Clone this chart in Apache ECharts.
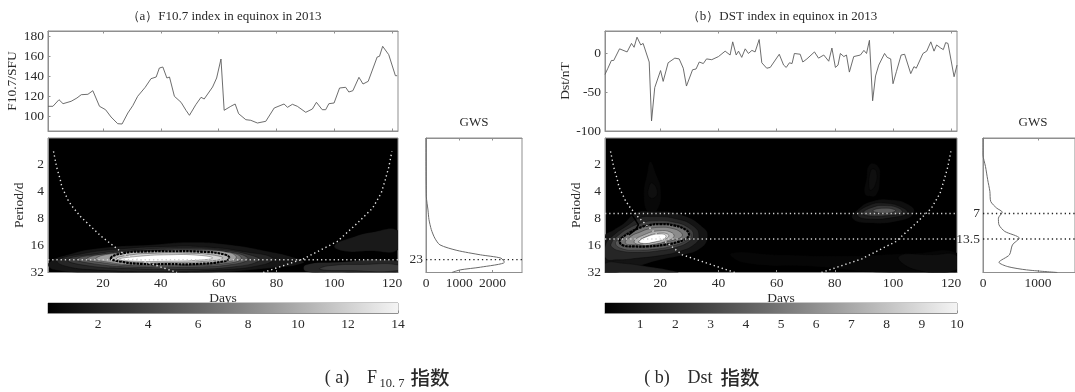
<!DOCTYPE html>
<html><head><meta charset="utf-8">
<style>html,body{margin:0;padding:0;background:#fff}#c{width:1075px;height:392px;filter:blur(0.35px)}</style>
<script src="https://cdn.jsdelivr.net/npm/echarts@6/dist/echarts.min.js"></script>
</head><body><div id="c"></div>
<script>
// ---------- values ----------
const f107Days=[1,2.7,4.8,6.2,9,11,12.5,14.8,16.5,18.8,20.9,22.8,25.1,26.6,28.6,30.3,32,34.6,36.6,38.4,39.5,40.7,42.1,43,44.7,47,48.7,49.9,52.1,53.9,55,57.9,59.3,60.8,61.9,64.2,65.7,66.9,69.4,71.1,73.4,76.3,79.2,82.6,83.8,85.5,87.2,90.1,92.4,93.8,95.8,97,98.1,99.9,101.8,103.9,105,106.4,108.5,109.9,111.7,114.8,115.6,116.7,118.8,121.1,121.7];
const f107Values=[109.7,109.7,116.3,112.3,114.7,118,121.3,121.7,125.3,109.7,106.3,99,92.3,92,103,110.3,119.7,128.7,137.3,139,148,149,138,139,119.7,113.7,105.7,100.7,111.3,118.7,117,129,138,157,105.7,109.7,112,102.3,96.3,95.7,93,94.7,108,112,108.7,111.7,109.7,103.7,107,113.7,106.3,106.3,112.3,113,128,128.7,124,125.3,138.7,132,134.7,159,159.7,169.7,161.3,140.3,140.3];
const dstDays=[1,2,3.2,4,6,8.6,10.1,11,12,13.3,14.1,16.2,17,18.1,20.1,21,22.7,25,26.5,27.9,29,31.1,32.3,33.4,34.8,35.9,37.7,40,42.3,44,44.9,46.1,46.9,48,49.2,50.3,51.5,52.6,54,54.9,56.6,57.8,60.9,62.4,63.3,64.4,65.3,66.1,68.1,69,70.4,73,74.4,76.2,77.9,79,80.2,81.1,81.9,83.1,84,85,86.5,88.8,90,90.9,91.9,93,94,95.1,97.1,98,99.2,100,101.2,102.8,104,106.1,107.2,108,110.3,111.6,113,114.1,115,116.4,117.3,118.1,118.9,121,122];
const dstValues=[-27,-19,-9,-9,6,2,13,8,21,11,13,-11,-87,-44,-22,-36,-12,-6,-7,-19,-42,-21,-20,-11,-13,-7,-8,-4,3,-2,15,-2,3,-5,6,0,4,2,18,-12,-19,-18,-1,-15,-18,-12,-13,0,-1,-11,-7,2,-6,-2,-10,7,-18,-15,0,-4,-2,-24,-4,-2,4,0,17,-61,-29,-15,0,-5,-7,-39,-23,-2,-1,-26,-17,-19,0,3,15,3,11,7,5,14,13,-30,-15];
const gwsAPeriods=[1,4.5,6.4,8.2,10.6,13.2,15.7,18.1,20.3,22.1,24.6,27.9,29.9,32];
const gwsAPower=[0,10,60,90,160,265,420,930,1640,2255,2360,1640,1030,780];
const gwsBPeriods=[1,1.54,2.08,2.93,3.96,5.12,6.1,6.75,7.9,9.35,11.1,13.2,15.7,20.3,24.6,27.5,29.9,32];
const gwsBPower=[0,0,45,85,125,140,250,350,280,290,395,660,535,480,290,450,790,1350];
const coiLeftDays=[2.9,4,5.1,5.8,7.9,9.2,12.4,19.4,27.6,45.6];
const coiLeftPeriods=[1.41,2.13,2.81,3.53,4.92,5.74,7.67,12.6,20.3,32];
const coiRightDays=[75.4,89.3,101,108,113.2,116.2,117.6,118.8,119.9];
const coiRightPeriods=[32,22.5,14.4,8.94,6.1,4.14,2.93,2.13,1.41];
const peaksA=[23];
const peaksB=[7,13.5];
const xTicks=[20,40,60,80,100,120];
const octTicks=[2,4,8,16,32];
const f107Ticks=[100,120,140,160,180];
const dstTicks=[-100,-50,0];
const gwsATicks=[0,1000,2000];
const gwsBTicks=[0,1000];
const cbarATicks=[2,4,6,8,10,12,14];
const cbarBTicks=[1,2,3,4,5,6,7,8,9,10];
// contour levels and outlines, as [day, log2(period)]
const aLevels=[0.9,1.5,2.5,0.8,1.5,2.5,4,6,8,9.5,11.5,14];
const aContours=[
 [[100,4.0],[106,3.7],[113,3.5],[122,3.45],[122,4.15],[112,4.2],[103,4.2]],
 [[90,4.72],[100,4.62],[122,4.58],[122,5],[100,5],[90,4.95]],
 [[98,4.75],[110,4.7],[122,4.72],[122,4.93],[105,4.93],[95,4.88]],
 [[1.3,4.65],[7.8,4.34],[19.4,4.09],[36.9,3.97],[50.9,3.88],[63.7,3.97],[75.4,4.18],[87,4.47],[89.3,4.65],[77.7,4.84],[54.4,5],[19.4,5],[3.1,4.9]],
 [[4.3,4.55],[12.4,4.31],[25.2,4.13],[42.7,4.03],[56.7,4.06],[68.4,4.22],[78.9,4.47],[75.4,4.71],[60.2,4.9],[36.9,4.96],[17,4.9],[6.6,4.75]],
 [[7.8,4.53],[17,4.31],[31,4.16],[48.6,4.09],[61.4,4.16],[71.9,4.38],[74.2,4.55],[66,4.78],[48.6,4.88],[28.7,4.85],[14.8,4.75]],
 [[10.9,4.5],[20.6,4.31],[34.6,4.19],[49.7,4.13],[62.5,4.22],[70.1,4.47],[66,4.68],[49.7,4.8],[31,4.8],[17,4.68]],
 [[14.3,4.49],[23,4.28],[36.9,4.19],[52,4.16],[63.7,4.25],[67.8,4.47],[63.7,4.65],[47,4.75],[31,4.75],[20.6,4.65]],
 [[17.5,4.48],[24.5,4.28],[38,4.2],[53,4.18],[64,4.27],[66,4.47],[62,4.62],[47,4.72],[31,4.72],[22,4.62]],
 [[22.7,4.47],[27,4.28],[34.6,4.22],[42.7,4.21],[54.4,4.23],[62,4.33],[63.7,4.47],[61.4,4.59],[53.2,4.68],[42.7,4.69],[33.4,4.68],[26.4,4.6]],
 [[24.7,4.49],[28.7,4.36],[36.9,4.29],[48.6,4.28],[57.9,4.35],[61.4,4.47],[55.5,4.58],[42.7,4.63],[31,4.62]],
 [[25.5,4.51],[32,4.4],[42.7,4.34],[53.2,4.36],[57.9,4.46],[53.2,4.54],[42.7,4.58],[31,4.58]]
];
const aSignificant=[9];
const bLevels=[0.25,0.6,0.3,0.6,0.35,0.6,0.6,1.2,2.2,3.5,0.8,1.2,1.5,2.5,3.5,4.5,5.5,7,8.5,10];
const bContours=[
 [[44.3,4.28],[60.8,4.34],[84.3,4.38],[107.8,4.28],[122,4.28],[122,5],[96.1,5],[72.5,4.78],[49,4.65]],
 [[102,4.4],[113.7,4.34],[122,4.38],[122,4.9],[107.8,4.9]],
 [[16.6,.87],[18.4,1.3],[20.2,1.92],[19,2.67],[16,2.79],[14.3,2.17],[15.5,1.3]],
 [[17.2,1.67],[19,1.99],[17.8,2.23],[16,2.17],[16,1.86]],
 [[91.9,.99],[94.9,1.05],[95.5,1.55],[94.3,2.11],[91.9,2.17],[90.2,2.05],[90.8,1.55]],
 [[92.5,1.18],[94.3,1.24],[93.7,1.8],[91.9,1.92]],
 [[86,2.98],[87.8,2.67],[92.5,2.36],[99.6,2.3],[106,2.52],[107.2,2.79],[103.1,3.06],[91.4,3.16]],
 [[87.8,2.85],[91.4,2.52],[97.2,2.42],[103.7,2.61],[104.9,2.79],[100.8,2.94],[91.4,3.01]],
 [[89.6,2.79],[93.1,2.57],[97.2,2.51],[102,2.61],[103.1,2.77],[98.4,2.88],[91.4,2.89]],
 [[93.1,2.7],[96.6,2.61],[100.8,2.67],[100.2,2.75],[96.1,2.79]],
 [[1,3.66],[4.1,3.41],[7.5,3.17],[11.5,2.79],[16.7,2.73],[27,2.85],[35,3.35],[36.2,3.72],[33.9,4.1],[28.2,4.34],[20.1,4.53],[12.1,4.78],[5.2,5],[1,5]],
 [[1,4.66],[7.5,4.66],[15.6,4.78],[22.4,4.9],[25.9,5],[1,5]],
 [[1.2,3.97],[4.1,3.6],[8.7,3.25],[12.7,2.98],[16.7,2.92],[25.3,3],[31.6,3.29],[33.3,3.66],[31.6,3.97],[26.4,4.22],[20.1,4.37],[12.1,4.47],[5.2,4.53],[1.2,4.47]],
 [[3.2,3.91],[5.8,3.6],[9.3,3.35],[13.3,3.17],[17.8,3.08],[24.7,3.13],[29.9,3.35],[31.4,3.62],[29.9,3.85],[25.3,4.07],[19,4.2],[12.1,4.25],[6.4,4.2],[3.5,4.07]],
 [[4.6,3.92],[6.3,3.72],[10,3.45],[14,3.28],[18,3.2],[24,3.22],[29,3.42],[30.6,3.65],[29,3.82],[24,4.02],[18.5,4.13],[12,4.17],[7,4.12]],
 [[6,3.85],[7,3.7],[9.8,3.5],[12.7,3.35],[15.6,3.25],[20.1,3.2],[24.7,3.25],[28.7,3.41],[29.9,3.6],[29.1,3.72],[25.9,3.87],[21.3,3.97],[15.6,4.03],[11,4.03],[7.5,4]],
 [[8,3.9],[10,3.65],[13,3.5],[16,3.38],[20,3.32],[24,3.36],[27,3.5],[27.5,3.65],[25,3.78],[21,3.88],[16,3.95],[11,3.97]],
 [[11,3.85],[14.4,3.6],[19.6,3.45],[23.6,3.5],[24.7,3.66],[22.4,3.82],[17.8,3.95],[13.3,3.97]],
 [[12.5,3.86],[15,3.68],[19.5,3.54],[22.5,3.57],[22.8,3.68],[20.5,3.79],[17,3.88],[13.8,3.91]],
 [[12.7,3.85],[15.6,3.66],[19.6,3.57],[21.9,3.62],[21.3,3.75],[17.8,3.87],[14.4,3.92]]
];
const bSignificant=[15];
const bBranchDays=[10.2,11.4,12.5,11.6,9.2];
const bBranchPeriods=[7.2,8.2,9.4,10.5,12.1];

// ---------- helpers ----------
const SERIF='"Liberation Serif","Times New Roman",serif';
const AX='#8f8f8f', TXT='#2a2a2a', FS=13.5;
const zip=(a,b)=>a.map((v,i)=>[v,b[i]]);
const gray=(lv,max,gm)=>{const g=Math.round(255*Math.min(1,lv/max)**gm);return `rgb(${g},${g},${g})`;};
const grids=[],xAxes=[],yAxes=[],series=[];
function box(left,top,width,height,bg){
  grids.push({show:true,left,top,width,height,borderColor:AX,borderWidth:1,backgroundColor:bg||'#fff',containLabel:false});
  return grids.length-1;
}
function valAxis(g,pos,min,max,ticks,labels,extra){
  return Object.assign({type:'value',gridIndex:g,position:pos,min,max,
    axisLine:{show:true,onZero:false,lineStyle:{color:AX}},splitLine:{show:false},
    axisTick:{show:!!ticks,inside:true,length:2.5,lineStyle:{color:AX},customValues:ticks||undefined},
    axisLabel:{show:!!labels,color:TXT,fontFamily:SERIF,fontSize:FS,margin:4,customValues:ticks||undefined,hideOverlap:false,showMinLabel:true,showMaxLabel:true,formatter:v=>String(v)},
    nameTextStyle:{color:TXT,fontFamily:SERIF,fontSize:13.5}},extra||{});
}
function logAxis(g,labels,extra){
  return Object.assign({type:'log',logBase:2,gridIndex:g,position:'left',min:1,max:32,inverse:true,
    axisLine:{show:true,onZero:false,lineStyle:{color:AX}},splitLine:{show:false},
    axisTick:{show:false},
    axisLabel:labels?{color:TXT,fontFamily:SERIF,fontSize:FS,margin:4,showMinLabel:true,showMaxLabel:true,
      formatter:v=>octTicks.includes(Math.round(v))?String(Math.round(v)):''}:{show:false},
    nameTextStyle:{color:TXT,fontFamily:SERIF,fontSize:13.5}},extra||{});
}
function addAxes(g,x,y,xTop){
  xAxes.push(x);const xi=xAxes.length-1;
  yAxes.push(y);const yi=yAxes.length-1;
  if(xTop){xAxes.push(xTop);}
  return [xi,yi];
}
function contours(xi,yi,levels,polys,sig,max,gm){
  const render=(params,api)=>{
    const i=api.value(2), pts=polys[i].map(p=>api.coord([p[0],Math.pow(2,p[1])]));
    const isSig=sig.includes(i)&&params.seriesName==='significance';
    if(isSig) return {type:'polygon',shape:{points:pts,smooth:0.5},style:{fill:'none',stroke:'#000',lineWidth:2.2,lineDash:[2.5,1]}};
    return {type:'polygon',shape:{points:pts,smooth:0.5},style:{fill:gray(levels[i],max,gm),stroke:'rgba(0,0,0,0.45)',lineWidth:0.7}};
  };
  series.push({type:'custom',name:'contours',xAxisIndex:xi,yAxisIndex:yi,clip:true,silent:true,coordinateSystem:'cartesian2d',
    encode:{x:0,y:1},data:polys.map((p,i)=>[p[0][0],Math.pow(2,p[0][1]),i]),renderItem:render,z:2});
  series.push({type:'custom',name:'significance',xAxisIndex:xi,yAxisIndex:yi,clip:true,silent:true,coordinateSystem:'cartesian2d',
    encode:{x:0,y:1},data:sig.map(i=>[polys[i][0][0],Math.pow(2,polys[i][0][1]),i]),renderItem:render,z:3});
}
function dotted(xi,yi,data,color,z){
  series.push({type:'line',xAxisIndex:xi,yAxisIndex:yi,data,smooth:false,symbol:'none',silent:true,clip:false,z:z||4,
    lineStyle:{color,width:1.4,type:[1.3,2.9]},animation:false});
}
function line(xi,yi,data,color,w){
  series.push({type:'line',xAxisIndex:xi,yAxisIndex:yi,data,symbol:'none',silent:true,lineStyle:{color,width:w||1},z:3,animation:false});
}
function gwsPeak(xi,yi,p,xmax){
  series.push({type:'line',xAxisIndex:xi,yAxisIndex:yi,silent:true,clip:false,symbol:'circle',symbolSize:0.01,z:4,animation:false,
    showAllSymbol:true,lineStyle:{color:'#222',width:1.3,type:[1.3,3]},itemStyle:{color:'#222'},
    data:[{value:[0,p],label:{show:true,position:'left',distance:3,formatter:String(p),color:TXT,fontFamily:SERIF,fontSize:FS}},[xmax,p]]});
}
function colorbar(xi,yi,max){
  series.push({type:'custom',xAxisIndex:xi,yAxisIndex:yi,silent:true,clip:true,encode:{x:0,y:1},data:[[0,0],[max,1]],z:1,
    renderItem:(params,api)=>{
      if(params.dataIndex!==0) return;
      const a=api.coord([0,0]),b=api.coord([max,1]);
      return {type:'rect',shape:{x:a[0],y:b[1],width:b[0]-a[0],height:a[1]-b[1]},
        style:{fill:new echarts.graphic.LinearGradient(0,0,1,0,[{offset:0,color:'#000'},{offset:0.45,color:'#6a6a6a'},{offset:0.85,color:'#cfcfcf'},{offset:1,color:'#f4f4f4'}])}};
    }});
}
function panel(o){
  // time series
  let g=box(o.left,31,o.width,100);
  let [xi,yi]=addAxes(g,
    valAxis(g,'bottom',1,122,xTicks,false),
    valAxis(g,'left',o.ymin,o.ymax,o.yTicks,true,{name:o.yName,nameLocation:'middle',nameGap:o.yGap,nameRotate:90}),
    valAxis(g,'top',1,122,xTicks,false));
  line(xi,yi,o.lineData,'#5c5c5c',0.9);
  // wavelet spectrum
  g=box(o.left,138,o.width,134.5,'#000');
  [xi,yi]=addAxes(g,
    valAxis(g,'bottom',1,122,xTicks,true,{name:'Days',nameLocation:'middle',nameGap:13}),
    logAxis(g,true,{name:'Period/d',nameLocation:'middle',nameGap:o.pGap,nameRotate:90}));
  contours(xi,yi,o.levels,o.polys,o.sig,o.max,o.gm);
  if(o.branch) line(xi,yi,o.branch,'#000',1.6);
  dotted(xi,yi,zip(coiLeftDays,coiLeftPeriods),'#e8e8e8',5);
  dotted(xi,yi,zip(coiRightDays,coiRightPeriods),'#e8e8e8',5);
  o.peaks.forEach(p=>dotted(xi,yi,[[1,p],[122,p]],'#cfcfcf',5));
  // global wavelet spectrum
  g=box(o.gLeft,138,o.gWidth,134.5);
  [xi,yi]=addAxes(g,
    valAxis(g,'bottom',0,o.gMax,o.gTicks,true),
    logAxis(g,false),
    valAxis(g,'top',0,o.gMax,o.gTicks,false));
  series.push({type:'line',xAxisIndex:xi,yAxisIndex:yi,data:zip(o.gPower,o.gPeriods),symbol:'none',smooth:0.25,silent:true,lineStyle:{color:'#6a6a6a',width:1},animation:false,z:3});
  o.peaks.forEach(p=>gwsPeak(xi,yi,p,o.gMax));
  // colour bar
  g=box(o.left,303,o.width,10);
  [xi,yi]=addAxes(g,
    valAxis(g,'bottom',0,o.max,o.cTicks,true,{axisLabel:{color:TXT,fontFamily:SERIF,fontSize:FS,margin:4,customValues:o.cTicks}}),
    {type:'value',gridIndex:g,min:0,max:1,show:false});
  colorbar(xi,yi,o.max);
}
panel({left:48,width:350,ymin:85,ymax:185,yTicks:f107Ticks,yName:'F10.7/SFU',yGap:20,pGap:16,lineData:zip(f107Days,f107Values),gm:0.85,
  levels:aLevels,polys:aContours,sig:aSignificant,max:14,peaks:peaksA,gLeft:426,gWidth:96,gMax:2890,gTicks:gwsATicks,gPeriods:gwsAPeriods,gPower:gwsAPower,cTicks:cbarATicks});
panel({left:605,width:352,ymin:-100,ymax:29,yTicks:dstTicks,yName:'Dst/nT',yGap:22,pGap:15,lineData:zip(dstDays,dstValues),gm:1,
  levels:bLevels,polys:bContours,sig:bSignificant,max:10,peaks:peaksB,branch:zip(bBranchDays,bBranchPeriods),gLeft:983,gWidth:102,gMax:1672,gTicks:gwsBTicks,gPeriods:gwsBPeriods,gPower:gwsBPower,cTicks:cbarBTicks});

const T=(text,left,top,size,extra)=>Object.assign({text,left,top,textAlign:'center',textVerticalAlign:'middle',padding:0,
  textStyle:Object.assign({fontFamily:SERIF,fontSize:size,fontWeight:'normal',color:TXT},extra||{})});
const titles=[
  T('（a）F10.7 index in equinox in 2013',224,17,13),
  T('（b）DST index in equinox in 2013',782,17,13),
  T('GWS',474,123,13),
  T('GWS',1033,123,13),
  T('( a)',337,378,18),
  T('F',372,378,18),
  T('10. 7',392,384,12.5),
  T('指数',430,378,19.5,{fontFamily:'"Noto Sans CJK SC"',fontWeight:500}),
  T('( b)',657,378,18),
  T('Dst',700,378,18),
  T('指数',740,378,19.5,{fontFamily:'"Noto Sans CJK SC"',fontWeight:500})
];
const chart=echarts.init(document.getElementById('c'),null,{renderer:'canvas'});
chart.setOption({animation:false,backgroundColor:'#fff',title:titles,grid:grids,xAxis:xAxes,yAxis:yAxes,series});
</script></body></html>
